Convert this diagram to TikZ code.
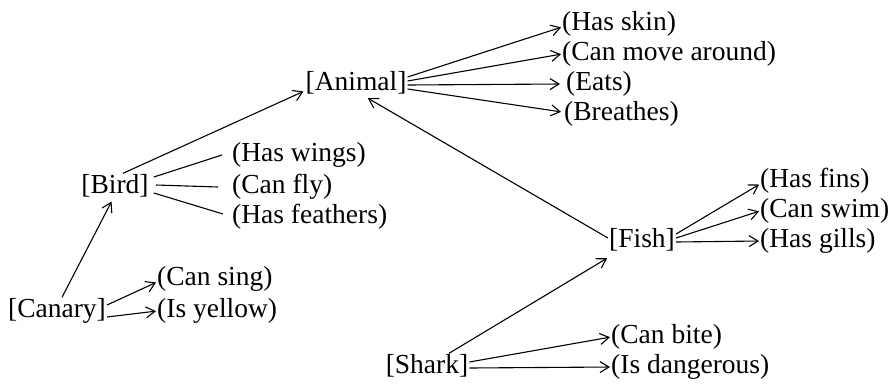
\documentclass[tikz,border=0pt]{standalone}
\usepackage{fontspec}
\setmainfont{Liberation Serif}
\usetikzlibrary{arrows.meta}
\begin{document}
\begin{tikzpicture}[x=1pt,y=-1pt,
  every node/.style={font=\fontsize{27.5}{30}\selectfont, text height=19pt, text depth=6pt},
  concept/.style={inner sep=1pt},
  prop/.style={anchor=west, inner sep=0pt},
  link/.style={line width=1.1pt},
  arr/.style={line width=1.1pt, -{Straight Barb[length=9pt,width=11pt]}, shorten >=1pt}]
\useasboundingbox (0,0) rectangle (896,386);
% concepts
\node[concept] (animal) at (356,84) {[Animal]};
\node[concept] (bird) at (115,187) {[Bird]};
\node[concept] (canary) at (57,311) {[Canary]};
\node[concept] (fish) at (642,241) {[Fish]};
\node[concept] (shark) at (427,367) {[Shark]};
% properties
\node[prop] (skin) at (562,24) {(Has skin)};
\node[prop] (move) at (562,54) {(Can move around)};
\node[prop] (eats) at (566,84) {(Eats)};
\node[prop] (breathes) at (564,114) {(Breathes)};
\node[prop] (wings) at (232,155) {(Has wings)};
\node[prop] (fly) at (232,187) {(Can fly)};
\node[prop] (feathers) at (232,217) {(Has feathers)};
\node[prop] (sing) at (157,279) {(Can sing)};
\node[prop] (yellow) at (157,311) {(Is yellow)};
\node[prop] (fins) at (760,181) {(Has fins)};
\node[prop] (swim) at (760,211) {(Can swim)};
\node[prop] (gills) at (760,241) {(Has gills)};
\node[prop] (bite) at (611,337) {(Can bite)};
\node[prop] (dangerous) at (611,367) {(Is dangerous)};
% isa links
\draw[arr] ([xshift=8pt]bird.north) -- ([yshift=-7pt]animal.west);
\draw[arr] ([xshift=5pt]canary.north) -- ([xshift=-3pt]bird.south);
\draw[arr] ([yshift=3pt]fish.west) -- ([xshift=11pt]animal.south);
\draw[arr] ([xshift=22pt]shark.north) -- ([yshift=-3pt]fish.south west);
% animal properties
\draw[arr] ([yshift=7pt]animal.east) -- ([yshift=-3pt]skin.west);
\draw[arr] ([yshift=3pt]animal.east) -- (move.west);
\draw[arr] ([yshift=-1pt]animal.east) -- ([xshift=-5pt]eats.west);
\draw[arr] ([yshift=-5pt]animal.east) -- ([xshift=-2pt,yshift=2pt]breathes.west);
% bird properties (plain lines)
\draw[link] ([shift={(4pt,10pt)}]bird.east) -- ([xshift=-10pt]wings.west);
\draw[link] ([shift={(6pt,2pt)}]bird.east) -- ([xshift=-14pt]fly.west);
\draw[link] ([shift={(4pt,-6pt)}]bird.east) -- ([xshift=-9pt,yshift=3pt]feathers.west);
% canary properties
\draw[arr] ([yshift=6pt]canary.east) -- ([yshift=-3pt]sing.west);
\draw[arr] ([yshift=-6pt]canary.east) -- (yellow.west);
% fish properties
\draw[arr] ([yshift=7pt]fish.east) -- ([yshift=-3pt]fins.west);
\draw[arr] ([yshift=3pt]fish.east) -- (swim.west);
\draw[arr] ([yshift=-1pt]fish.east) -- (gills.west);
% shark properties
\draw[arr] ([yshift=5pt]shark.east) -- (bite.west);
\draw[arr] ([yshift=-1pt]shark.east) -- (dangerous.west);
\end{tikzpicture}
\end{document}
